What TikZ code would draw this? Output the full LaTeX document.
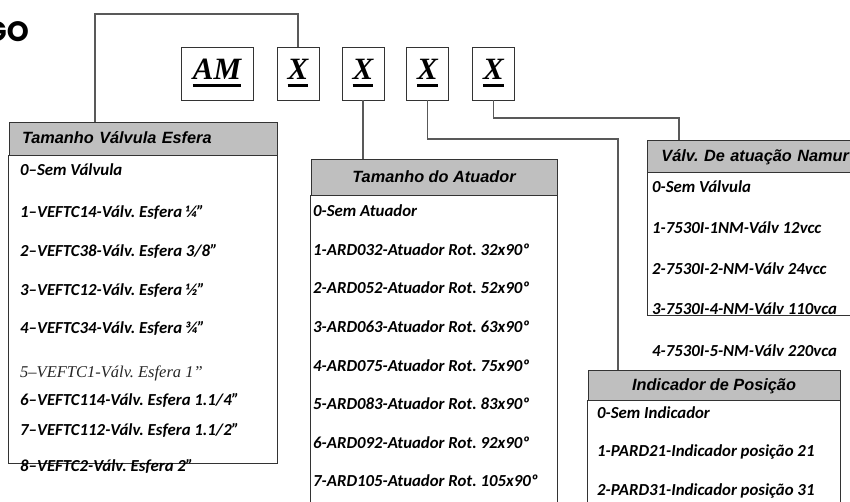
\documentclass[tikz,border=0pt]{standalone}
\usepackage{fontspec}
\setmainfont{Carlito}
\newfontfamily\itemfam{Carlito-BoldItalic.ttf}
\newfontfamily\hdfont{LiberationSans-BoldItalic.ttf}
\newfontfamily\tmfont{Liberation Serif}
\newfontfamily\ttlfont{Poppins-Bold.ttf}
\usepackage{tikz}
\frenchspacing

\newcommand{\itemfont}{\itemfam\fontsize{16.8}{18}\selectfont}
\newcommand{\headfont}{\hdfont\fontsize{16.3}{18}\selectfont}
\newcommand{\codefont}{\tmfont\fontsize{31}{31}\selectfont\bfseries\itshape}
\newcommand{\ulcode}[1]{\setbox0=\hbox{#1}\rlap{\rule[-7pt]{\wd0}{3pt}}\box0}

\begin{document}
\begin{tikzpicture}[x=1pt, y=-1pt,
    codebox/.style={draw=black!80, line width=0.8pt, minimum height=53pt, inner sep=0pt,
        text height=20pt, text depth=7pt, font=\codefont},
    headbox/.style={draw=black!80, line width=0.8pt, fill=black!25, inner ysep=0pt,
        text height=11pt, text depth=0pt, font=\headfont},
    bodybox/.style={draw=black!80, line width=0.8pt},
    link/.style={draw=black!65, line width=1.2pt},
    item/.style={anchor=base west, inner sep=0pt, font=\itemfont}]
    \useasboundingbox (0,0) rectangle (850,502);
    \clip (0,0) rectangle (850,502);

    % title (cut at the left)
    \node[anchor=base east, inner sep=0pt, font=\ttlfont\fontsize{28}{28}\selectfont] (title) at (29,42) {GO};

    % code
    \node[codebox, minimum width=72pt] (am) at (217,73.5) {\ulcode{AM}};
    \node[codebox, minimum width=42pt] (x1) at (298,73.5) {\ulcode{X}};
    \node[codebox, minimum width=42pt] (x2) at (363,73.5) {\ulcode{X}};
    \node[codebox, minimum width=42pt] (x3) at (427.5,73.5) {\ulcode{X}};
    \node[codebox, minimum width=42pt] (x4) at (493.5,73.5) {\ulcode{X}};

    % Tamanho Valvula Esfera
    \node[headbox, minimum width=268pt, minimum height=33pt, text width=242pt, inner xsep=13pt, align=left] (hdValv) at (143,138.5) {Tamanho Válvula Esfera};
    \draw[bodybox] (hdValv.south west) rectangle (277,463);
    \foreach \y/\t in {176/{0–Sem Válvula}, 218/{1–VEFTC14-Válv. Esfera ¼”}, 257/{2–VEFTC38-Válv. Esfera 3/8”},
        295/{3–VEFTC12-Válv. Esfera ½”}, 333/{4–VEFTC34-Válv. Esfera ¾”}, 405/{6–VEFTC114-Válv. Esfera 1.1/4”},
        435/{7–VEFTC112-Válv. Esfera 1.1/2”}, 471/{8–VEFTC2-Válv. Esfera 2”}}
        \node[item] at (20,\y) {\t};
    \node[item, font=\tmfont\fontsize{16.5}{18}\selectfont\itshape, text=black!85] (v5) at (20,377) {5–VEFTC1-Válv. Esfera 1”};

    % Tamanho do Atuador
    \node[headbox, minimum width=246pt, minimum height=36pt] (hdAtu) at (434,177) {Tamanho do Atuador};
    \draw[bodybox] (hdAtu.south west) rectangle (557,530);
    \node[item] at (313,217) {0-Sem Atuador};
    \foreach \i/\c/\r in {1/032/32, 2/052/52, 3/063/63, 4/075/75, 5/083/83, 6/092/92, 7/105/105}
        \node[item] at (313,217+38.5*\i) {\i-ARD\c-Atuador Rot. \r x90º};

    % Valv. De atuacao Namur (runs past the right edge)
    \node[headbox, anchor=west, minimum height=32pt, text width=200pt, inner xsep=14pt, align=left] (hdNam) at (647,156) {Válv. De atuação Namur};
    \draw[bodybox] (hdNam.south west) rectangle (870,315);
    \foreach \y/\t in {193/{0-Sem Válvula}, 234/{1-7530I-1NM-Válv 12vcc}, 274/{2-7530I-2-NM-Válv 24vcc},
        314/{3-7530I-4-NM-Válv 110vca}, 356/{4-7530I-5-NM-Válv 220vca}}
        \node[item] at (652,\y) {\t};

    % Indicador de Posicao
    \node[headbox, minimum width=252pt, minimum height=30pt] (hdInd) at (714,385) {Indicador de Posição};
    \draw[bodybox] (hdInd.south west) rectangle (840,530);
    \foreach \y/\t in {418/{0-Sem Indicador}, 456.5/{1-PARD21-Indicador posição 21}, 495/{2-PARD31-Indicador posição 31}}
        \node[item] at (597,\y) {\t};

    % links
    \coordinate (kValv) at (95,14);
    \coordinate (kInd) at (618,139);
    \coordinate (kNam) at (679,118);
    \draw[link] (x1.north) |- (kValv) -- (kValv |- hdValv.north);
    \draw[link] (x2.south) -- (x2.south |- hdAtu.north);
    \draw[link] (x3.south) |- (kInd) -- (kInd |- hdInd.north);
    \draw[link] (x4.south) |- (kNam) -- (kNam |- hdNam.north);
\end{tikzpicture}
\end{document}
